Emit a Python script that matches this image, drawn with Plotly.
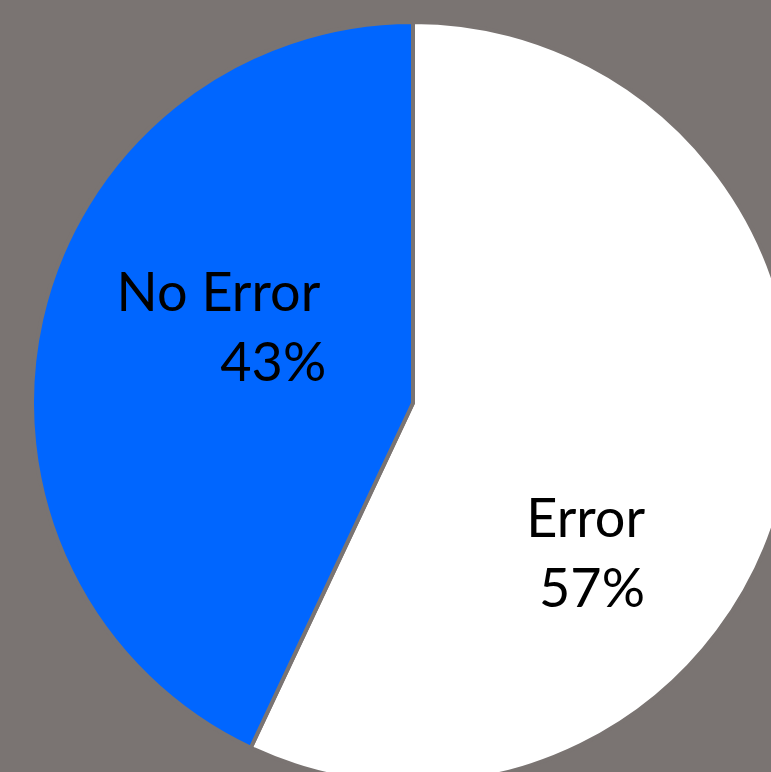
import plotly.graph_objects as go

labels = ["Error", "No Error"]
values = [57, 43]
colors = ["#FFFFFF", "#0066FF"]

BG = "#7A7472"
NB = "\u00a0"
# text layout helpers: leading / trailing spacer lines, padding of the percent line, trailing pad
before = ['<span style="font-size:200px">' + NB + "</span><br>", ""]
after = ["", "<br>" + NB]
pad = [NB, NB * 8]
tail = [NB * 2, NB]

fig = go.Figure(
    go.Pie(
        labels=labels,
        values=values,
        sort=False,
        direction="clockwise",
        rotation=0,
        marker=dict(colors=colors, line=dict(color=BG, width=4)),
        customdata=[[b, p, a, t] for b, p, a, t in zip(before, pad, after, tail)],
        texttemplate="%{customdata[0]}%{label}%{customdata[3]}<br>%{customdata[1]}%{percent:.0%}%{customdata[3]}%{customdata[2]}",
        textposition="inside",
        insidetextorientation="horizontal",
        textfont=dict(family="Lato, sans-serif", size=54, color="#000000"),
        showlegend=False,
        hoverinfo="label+percent",
    )
)

fig.update_layout(
    width=794,
    height=784,
    margin=dict(l=32, r=0, t=22, b=0, pad=0),
    paper_bgcolor=BG,
    plot_bgcolor=BG,
    showlegend=False,
)

fig.write_html(
    "out.html",
    post_script="document.body.style.margin='0';document.body.style.overflow='hidden';document.documentElement.style.overflow='hidden';document.body.style.background='" + BG + "';",
)
